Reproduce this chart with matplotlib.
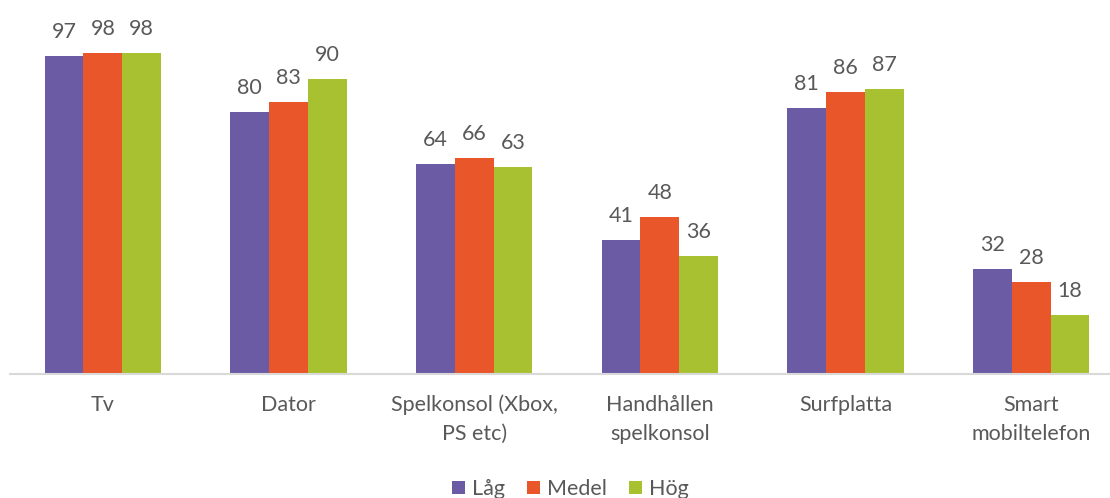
import matplotlib
matplotlib.use("Agg")
import matplotlib.pyplot as plt
import numpy as np

categories = ["Tv", "Dator", "Spelkonsol (Xbox,\nPS etc)", "Handhållen\nspelkonsol", "Surfplatta", "Smart\nmobiltelefon"]
series_names = ["Låg", "Medel", "Hög"]
lag = [97, 80, 64, 41, 81, 32]
medel = [98, 83, 66, 48, 86, 28]
hog = [98, 90, 63, 36, 87, 18]
colors = ["#6A5BA4", "#E9562A", "#A8C130"]

plt.rcParams['font.family'] = ['Lato', 'DejaVu Sans']
txt = "#595959"
fs = 15.5

fig = plt.figure(figsize=(11.1, 4.98), dpi=100)
ax = fig.add_axes([10/1110, 1 - 374/498, 1114/1110, 374/498])
x = np.arange(len(categories))
w = 0.2085
for i, (vals, c, n) in enumerate(zip([lag, medel, hog], colors, series_names)):
    bars = ax.bar(x + (i - 1) * w, vals, w, color=c, label=n, zorder=2)
    for b, v in zip(bars, vals):
        ax.annotate(str(v), (b.get_x() + b.get_width() / 2, v), xytext=(0, 10),
                    textcoords="offset points", ha="center", va="bottom",
                    fontsize=fs, color=txt)

ax.set_xlim(-0.5, len(categories) - 0.5)
ax.set_ylim(0, 374 / 3.28)
ax.set_yticks([])
ax.set_xticks(x)
ax.set_xticklabels(categories, fontsize=fs, color=txt, linespacing=1.55)
ax.tick_params(axis='x', length=0, pad=15)
for s in ["top", "right", "left"]:
    ax.spines[s].set_visible(False)
ax.spines["bottom"].set_color("#D9D9D9")
ax.spines["bottom"].set_linewidth(1.5)

fig.legend(loc="center", bbox_to_anchor=(0.514, 1 - 489/498), ncol=3, frameon=False,
           fontsize=fs, labelcolor=txt, handlelength=0.6, handleheight=0.6,
           handletextpad=0.35, columnspacing=1.0, borderpad=0)

fig.savefig("out.png", dpi=100)
